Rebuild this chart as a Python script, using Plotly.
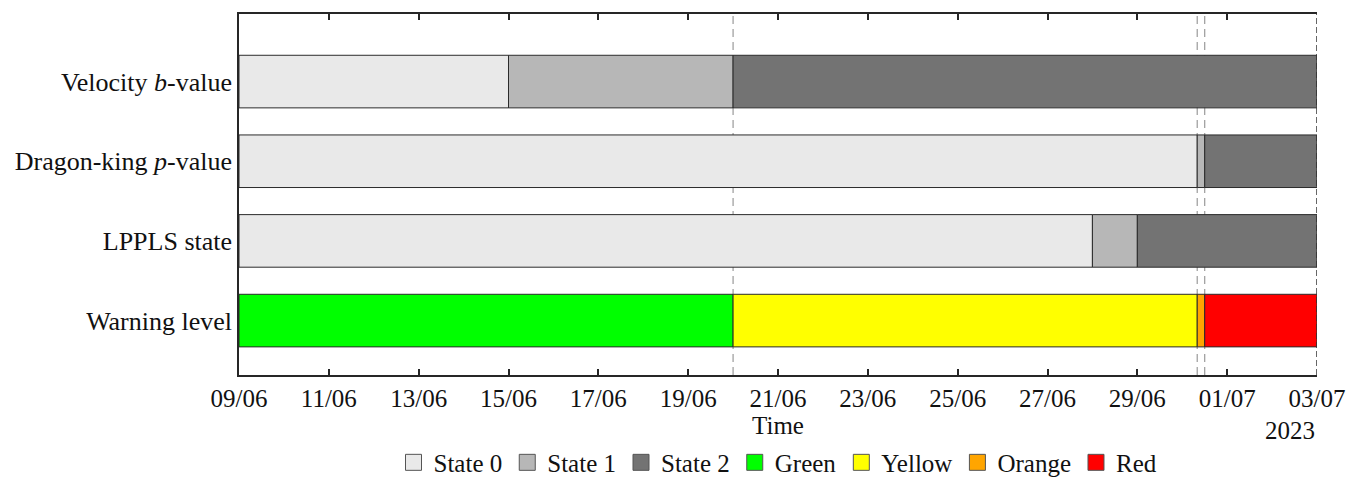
import plotly.graph_objects as go
import pandas as pd

# Row labels (top to bottom)
rows = ["Velocity <i>b</i>-value", "Dragon-king <i>p</i>-value", "LPPLS state", "Warning level"]

# Segment boundaries for each row and the class of each segment
velocity_edges = ["2023-06-09", "2023-06-15", "2023-06-20", "2023-07-03"]
velocity_class = ["State 0", "State 1", "State 2"]

dragon_edges = ["2023-06-09", "2023-06-30 08:00", "2023-06-30 12:00", "2023-07-03"]
dragon_class = ["State 0", "State 1", "State 2"]

lppls_edges = ["2023-06-09", "2023-06-28", "2023-06-29", "2023-07-03"]
lppls_class = ["State 0", "State 1", "State 2"]

warning_edges = ["2023-06-09", "2023-06-20", "2023-06-30 08:00", "2023-06-30 12:00", "2023-07-03"]
warning_class = ["Green", "Yellow", "Orange", "Red"]

# Times of the transitions marked by dashed lines
event_times = ["2023-06-20", "2023-06-30 08:00", "2023-06-30 12:00"]
end_time = "2023-07-03"

classes = ["State 0", "State 1", "State 2", "Green", "Yellow", "Orange", "Red"]
class_colors = ["#e9e9e9", "#b7b7b7", "#737373", "#00ff00", "#ffff00", "#ffa500", "#ff0000"]

row_data = [
    (rows[0], velocity_edges, velocity_class),
    (rows[1], dragon_edges, dragon_class),
    (rows[2], lppls_edges, lppls_class),
    (rows[3], warning_edges, warning_class),
]
n_rows = len(rows)
row_pos = {name: n_rows - 1 - i for i, name in enumerate(rows)}

edge_color = "#2b2b2b"
font_family = "Liberation Serif"
text_color = "#111111"

fig = go.Figure()

# Event markers behind the bars
for t in event_times:
    fig.add_vline(x=pd.Timestamp(t).value / 1e6,
                  line=dict(color="#9a9a9a", width=1.2, dash="8px,5px"), layer="below")

for cls, col in zip(classes, class_colors):
    ys, bases, widths = [], [], []
    for name, edges, labels in row_data:
        for k, lab in enumerate(labels):
            if lab == cls:
                t0 = pd.Timestamp(edges[k])
                t1 = pd.Timestamp(edges[k + 1])
                ys.append(row_pos[name])
                bases.append(t0.strftime("%Y-%m-%d %H:%M"))
                widths.append((t1 - t0).total_seconds() * 1000)
    fig.add_trace(go.Bar(
        y=ys, x=widths, base=bases, orientation="h", name=cls,
        legendgroup=cls, showlegend=False,
        width=0.66, marker=dict(color=col, line=dict(color=edge_color, width=1)),
        hoverinfo="skip",
    ))
    # Legend key: a filled square swatch for the class
    fig.add_trace(go.Scatter(
        x=[None], y=[None], mode="markers", name=cls, legendgroup=cls,
        marker=dict(symbol="square", size=16, color=col, line=dict(color="#555555", width=1)),
    ))

# Right-hand boundary at the end of the period
fig.add_vline(x=pd.Timestamp(end_time).value / 1e6,
              line=dict(color="#333333", width=1.5, dash="6px,3px"))

fig.update_layout(
    width=1348, height=482,
    margin=dict(l=239, r=31, t=14, b=107),
    plot_bgcolor="white", paper_bgcolor="white",
    barmode="overlay",
    font=dict(family=font_family, size=25, color=text_color),
    showlegend=True,
    legend=dict(orientation="h", x=0.5, xanchor="center", xref="paper",
                y=0.088, yanchor="top", yref="container",
                font=dict(size=25, family=font_family, color=text_color),
                itemwidth=30, tracegroupgap=0, traceorder="normal",
                bgcolor="rgba(0,0,0,0)"),
)

fig.update_xaxes(
    type="date", range=["2023-06-09", end_time], automargin=False,
    tick0="2023-06-09", dtick=2 * 86400000, tickformat="%d/%m",
    ticks="inside", ticklen=6, tickwidth=1.5, tickcolor="#262626",
    showline=True, linecolor="#262626", linewidth=1.5, mirror="ticks",
    showgrid=False, zeroline=False,
    tickfont=dict(size=25, color=text_color),
    title=dict(text="Time", font=dict(size=25, color=text_color), standoff=6),
)

fig.update_yaxes(
    range=[-0.683, n_rows - 1 + 0.848], automargin=False,
    tickvals=[row_pos[r] for r in rows], ticktext=rows,
    ticks="", showline=True, linecolor="#262626", linewidth=1.5,
    showgrid=False, zeroline=False,
    tickfont=dict(size=26, color=text_color),
)

# Year beneath the last date tick
fig.add_annotation(x=end_time, xref="x", y=-0.112, yref="paper", yanchor="top",
                   text="2023", showarrow=False, xanchor="right",
                   font=dict(size=25, color=text_color, family=font_family))

fig.write_html("out.html")
